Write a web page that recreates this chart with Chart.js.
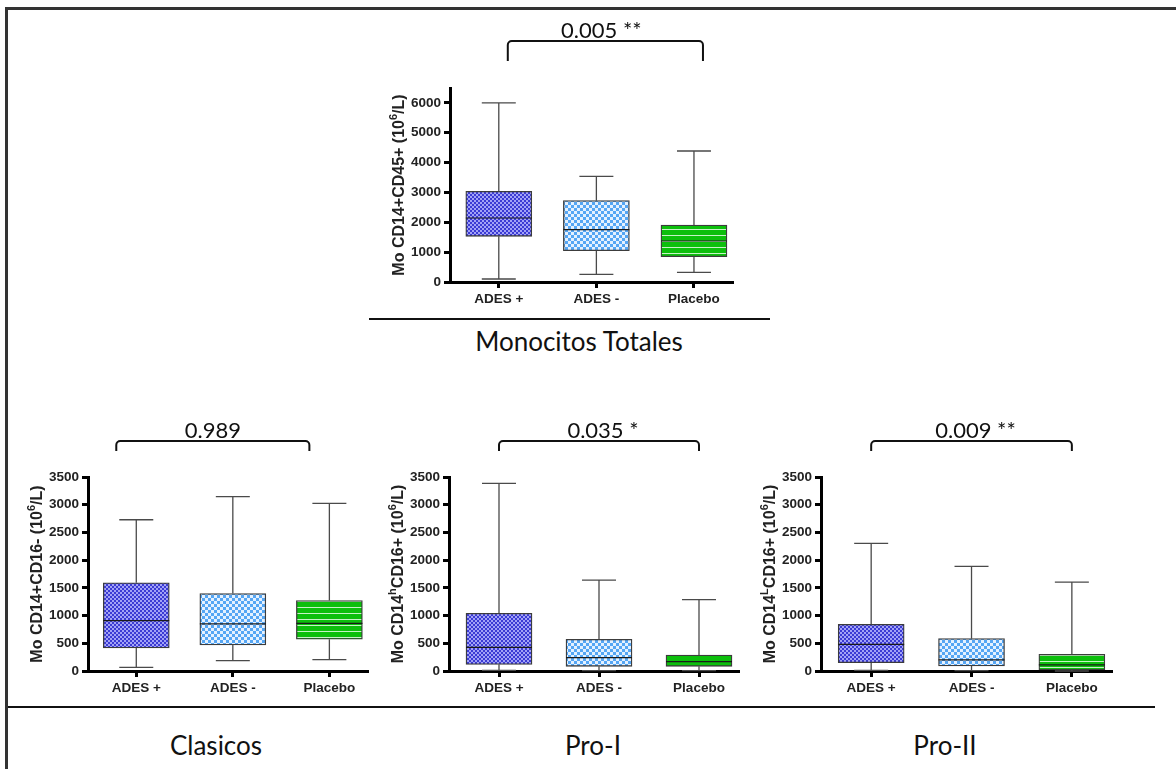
<!DOCTYPE html>
<html>
<head>
<meta charset="utf-8">
<script src="https://cdn.jsdelivr.net/npm/chart.js@4/dist/chart.umd.min.js"></script>
<style>
  html, body { margin: 0; padding: 0; background: #fff; }
  #fig { position: relative; width: 1176px; height: 769px; overflow: hidden; background: #fff; }
  #fig canvas { position: absolute; }
  .frame { position: absolute; background: #333; }
  .rule { position: absolute; background: #111; }
  .caption { position: absolute; font-family: Lato, "Open Sans", sans-serif; font-size: 26px; color: #111;
             transform: translateX(-50%); white-space: nowrap; line-height: 1; }
</style>
</head>
<body>
<div id="fig">
  <div class="frame" style="left:5px;top:7px;width:1171px;height:3px"></div>
  <div class="frame" style="left:5px;top:7px;width:3px;height:762px"></div>
  <div class="rule" style="left:369px;top:318px;width:401px;height:2px"></div>
  <div class="rule" style="left:8px;top:706px;width:1147px;height:2px"></div>
  <div class="caption" style="left:579px;top:328px">Monocitos Totales</div>
  <div class="caption" style="left:216px;top:732px">Clasicos</div>
  <div class="caption" style="left:593px;top:732px">Pro-I</div>
  <div class="caption" style="left:945px;top:732px">Pro-II</div>
</div>
<script>
// Groups on the x axis
const groups = ['ADES +', 'ADES -', 'Placebo'];

// Tick values of the y axes
const ticksTotal = [0, 1000, 2000, 3000, 4000, 5000, 6000];
const ticksSubset = [0, 500, 1000, 1500, 2000, 2500, 3000, 3500];

// Monocitos totales: whisker low, Q1, median, Q3, whisker high (10^6/L)
const totalLow    = [100, 257, 324];
const totalQ1     = [1530, 1050, 849];
const totalMedian = [2145, 1754, 1374];
const totalQ3     = [3040, 2726, 1911];
const totalHigh   = [6000, 3542, 4390];

// Clasicos (CD14+CD16-)
const clasLow    = [66, 187, 205];
const clasQ1     = [416, 470, 572];
const clasMedian = [910, 849, 861];
const clasQ3     = [1590, 1398, 1271];
const clasHigh   = [2729, 3145, 3024];

// Pro-I (CD14hCD16+)
const pro1Low    = [10, 5, 5];
const pro1Q1     = [120, 84, 84];
const pro1Median = [428, 241, 169];
const pro1Q3     = [1042, 572, 289];
const pro1High   = [3386, 1639, 1289];

// Pro-II (CD14LCD16+)
const pro2Low    = [10, 5, 0];
const pro2Q1     = [151, 90, 20];
const pro2Median = [482, 199, 110];
const pro2Q3     = [843, 584, 301];
const pro2High   = [2301, 1886, 1602];

// p-values of the comparison brackets
const pValues = ['0.005 **', '0.989', '0.035 *', '0.009 **'];

// Axis titles, split into normal and superscript runs
const yTitles = [
  [['Mo CD14+CD45+ (10', 0], ['6', 1], ['/L)', 0]],
  [['Mo CD14+CD16- (10', 0], ['6', 1], ['/L)', 0]],
  [['Mo CD14', 0], ['h', 1], ['CD16+ (10', 0], ['6', 1], ['/L)', 0]],
  [['Mo CD14', 0], ['L', 1], ['CD16+ (10', 0], ['6', 1], ['/L)', 0]],
];

// ---- fill patterns -------------------------------------------------------
function makePattern(size, paint) {
  const c = document.createElement('canvas');
  c.width = size; c.height = size;
  paint(c.getContext('2d'), size);
  return c;
}
const probe = document.createElement('canvas').getContext('2d');
const fineChecker = probe.createPattern(makePattern(4, (g) => {
  g.fillStyle = '#a2a2f6'; g.fillRect(0, 0, 4, 4);
  g.fillStyle = '#3b3bd4'; g.fillRect(0, 0, 2, 2); g.fillRect(2, 2, 2, 2);
}), 'repeat');
const lightChecker = probe.createPattern(makePattern(6, (g) => {
  g.fillStyle = '#e4f1ff'; g.fillRect(0, 0, 6, 6);
  g.fillStyle = '#55a6f4'; g.fillRect(0, 0, 3, 3); g.fillRect(3, 3, 3, 3);
}), 'repeat');
const greenStripes = probe.createPattern(makePattern(6, (g) => {
  g.fillStyle = '#0cbf0c'; g.fillRect(0, 0, 6, 6);
  g.fillStyle = '#c6f2c6'; g.fillRect(0, 3, 6, 1);
}), 'repeat');
const fills = [fineChecker, lightChecker, greenStripes];

// ---- plugins ---------------------------------------------------------------
const boxWhiskers = {
  id: 'boxWhiskers',
  afterDatasetsDraw(chart, args, o) {
    const { ctx, scales: { x, y } } = chart;
    const s = o.stats;
    ctx.save();
    for (let i = 0; i < groups.length; i++) {
      const cx = x.getPixelForValue(i);
      const hb = o.boxWidth / 2, hc = o.capWidth / 2;
      const py = (v) => y.getPixelForValue(v);
      ctx.strokeStyle = '#4a4a4a';
      ctx.lineWidth = 1.3;
      ctx.beginPath();
      ctx.moveTo(cx, py(s.q3[i])); ctx.lineTo(cx, py(s.high[i]));
      ctx.moveTo(cx - hc, py(s.high[i])); ctx.lineTo(cx + hc, py(s.high[i]));
      ctx.moveTo(cx, py(s.q1[i])); ctx.lineTo(cx, py(s.low[i]));
      ctx.moveTo(cx - hc, py(s.low[i])); ctx.lineTo(cx + hc, py(s.low[i]));
      ctx.stroke();
      ctx.strokeStyle = '#1a1a1a';
      ctx.lineWidth = 1.2;
      ctx.beginPath();
      ctx.moveTo(cx - hb, py(s.median[i])); ctx.lineTo(cx + hb, py(s.median[i]));
      ctx.stroke();
    }
    ctx.restore();
  }
};

const bracket = {
  id: 'bracket',
  afterDraw(chart, args, o) {
    const { ctx, chartArea, scales: { x } } = chart;
    const x0 = x.getPixelForValue(0) + o.dx;
    const x1 = x.getPixelForValue(groups.length - 1) + o.dx;
    const yb = chartArea.top - o.rise;
    ctx.save();
    ctx.strokeStyle = '#111';
    ctx.lineWidth = 2;
    ctx.beginPath();
    ctx.moveTo(x0, yb + o.leg);
    ctx.arcTo(x0, yb, x1, yb, 4);
    ctx.arcTo(x1, yb, x1, yb + o.leg, 4);
    ctx.lineTo(x1, yb + o.leg);
    ctx.stroke();
    ctx.fillStyle = '#111';
    ctx.font = '22px Lato, "Open Sans", sans-serif';
    ctx.textAlign = 'center';
    ctx.textBaseline = 'alphabetic';
    ctx.fillText(o.text, (x0 + x1) / 2 + o.textDx, yb - 3);
    ctx.restore();
  }
};

const yTitle = {
  id: 'yTitle',
  afterDraw(chart, args, o) {
    const { ctx, chartArea } = chart;
    const mainFont = 'bold 16px "Liberation Sans", Arial, sans-serif';
    const supFont = 'bold 11px "Liberation Sans", Arial, sans-serif';
    ctx.save();
    ctx.translate(chartArea.left - o.gap, (chartArea.top + chartArea.bottom) / 2);
    ctx.rotate(-Math.PI / 2);
    ctx.fillStyle = '#222';
    ctx.textBaseline = 'alphabetic';
    ctx.textAlign = 'left';
    let total = 0;
    for (const [t, sup] of o.runs) { ctx.font = sup ? supFont : mainFont; total += ctx.measureText(t).width; }
    let xx = -total / 2;
    for (const [t, sup] of o.runs) {
      ctx.font = sup ? supFont : mainFont;
      ctx.fillText(t, xx, sup ? -1.5 : 6);
      xx += ctx.measureText(t).width;
    }
    ctx.restore();
  }
};

// ---- panels ----------------------------------------------------------------
const tickFont = { family: '"Liberation Sans", Arial, sans-serif', weight: 'bold', size: 13.5 };
const Y_AXIS_W = 56, X_AXIS_H = 28;

const panels = [
  { canvas: { left: 370, top: 10, width: 400 }, area: { left: 450, top: 88, right: 733, bottom: 282 },
    yMax: 6500, yTicks: ticksTotal, title: yTitles[0], p: pValues[0],
    bracket: { rise: 47, leg: 20, dx: 9, textDx: -4 },
    stats: { low: totalLow, q1: totalQ1, median: totalMedian, q3: totalQ3, high: totalHigh } },
  { canvas: { left: 10, top: 400, width: 370 }, area: { left: 88, top: 477, right: 368, bottom: 671 },
    yMax: 3500, yTicks: ticksSubset, title: yTitles[1], p: pValues[1],
    bracket: { rise: 36, leg: 10, dx: -20, textDx: 0 },
    stats: { low: clasLow, q1: clasQ1, median: clasMedian, q3: clasQ3, high: clasHigh } },
  { canvas: { left: 385, top: 400, width: 375 }, area: { left: 449, top: 477, right: 739, bottom: 671 },
    yMax: 3500, yTicks: ticksSubset, title: yTitles[2], p: pValues[2],
    bracket: { rise: 36, leg: 10, dx: 0, textDx: 4 },
    stats: { low: pro1Low, q1: pro1Q1, median: pro1Median, q3: pro1Q3, high: pro1High } },
  { canvas: { left: 750, top: 400, width: 420 }, area: { left: 821, top: 477, right: 1112, bottom: 671 },
    yMax: 3500, yTicks: ticksSubset, title: yTitles[3], p: pValues[3],
    bracket: { rise: 36, leg: 10, dx: 0, textDx: 4 },
    stats: { low: pro2Low, q1: pro2Q1, median: pro2Median, q3: pro2Q3, high: pro2High } },
];

const fig = document.getElementById('fig');
for (const pnl of panels) {
  const cv = document.createElement('canvas');
  const height = pnl.area.bottom - pnl.canvas.top + X_AXIS_H;
  cv.width = pnl.canvas.width; cv.height = height;
  cv.style.left = pnl.canvas.left + 'px';
  cv.style.top = pnl.canvas.top + 'px';
  cv.style.width = pnl.canvas.width + 'px';
  cv.style.height = height + 'px';
  fig.appendChild(cv);

  const s = pnl.stats;
  const axisGrid = { display: true, drawOnChartArea: false, drawTicks: true, tickLength: 6,
                     tickWidth: 3, tickColor: '#000', offset: false };
  new Chart(cv, {
    type: 'bar',
    data: {
      datasets: [{
        data: groups.map((g, i) => ({ x: i, y: [s.q1[i], s.q3[i]] })),
        backgroundColor: fills,
        borderColor: '#3c3c3c',
        borderWidth: 1.3,
        borderSkipped: false,
        barThickness: 66,
      }]
    },
    options: {
      responsive: false,
      animation: false,
      devicePixelRatio: 1,
      layout: { padding: {
        left: pnl.area.left - pnl.canvas.left - Y_AXIS_W,
        right: pnl.canvas.left + pnl.canvas.width - pnl.area.right,
        top: pnl.area.top - pnl.canvas.top,
        bottom: 0 } },
      plugins: {
        legend: { display: false },
        tooltip: { enabled: false },
        boxWhiskers: { stats: s, boxWidth: 66, capWidth: 34 },
        bracket: Object.assign({ text: pnl.p }, pnl.bracket),
        yTitle: { runs: pnl.title, gap: 52 },
      },
      scales: {
        x: {
          type: 'linear', min: -0.5, max: 2.4, offset: false,
          afterBuildTicks: (sc) => { sc.ticks = groups.map((g, i) => ({ value: i })); },
          afterFit: (sc) => { sc.height = X_AXIS_H; },
          grid: axisGrid,
          border: { display: true, width: 3, color: '#000' },
          ticks: { callback: (v) => groups[v], font: tickFont, color: '#222', padding: 3,
                   maxRotation: 0, autoSkip: false },
        },
        y: {
          min: 0, max: pnl.yMax,
          afterBuildTicks: (sc) => { sc.ticks = pnl.yTicks.map((v) => ({ value: v })); },
          afterFit: (sc) => { sc.width = Y_AXIS_W; },
          grid: axisGrid,
          border: { display: true, width: 3, color: '#000' },
          ticks: { callback: (v) => String(v), font: tickFont, color: '#222', padding: 3 },
        }
      }
    },
    plugins: [boxWhiskers, bracket, yTitle]
  });
}
</script>
</body>
</html>
